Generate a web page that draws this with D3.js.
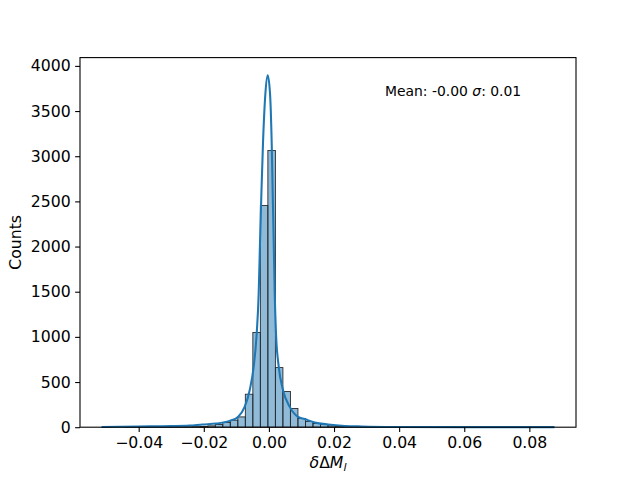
<!DOCTYPE html>
<html>
<head>
<meta charset="utf-8">
<script src="https://cdn.jsdelivr.net/npm/d3@7"></script>
<style>
  html, body { margin: 0; padding: 0; background: #fff; }
  svg text { font-family: "DejaVu Sans", sans-serif; fill: #000; }
</style>
</head>
<body>
<svg id="chart" width="640" height="480"></svg>
<script>
// ---- data ----
const dataMin = -0.0511;
const dataMax = 0.0874;
const binCounts = [
  1, 0, 0, 1, 1, 1, 2, 2, 3, 3, 4, 5, 6, 8, 15, 30, 52, 77, 114, 365,
  1048, 2454, 3063, 660, 395, 207, 96, 63, 41, 30, 15, 10, 6, 4, 3, 2, 2, 1, 1, 1,
  1, 0, 1, 0, 0, 1, 0, 0, 0, 1, 0, 0, 0, 0, 1, 0, 0, 0, 0, 1
];
const kdeX = [-0.0511, -0.040, -0.030, -0.0244, -0.0204, -0.0162, -0.0121, -0.0095, -0.00745, -0.0059,
  -0.00468, -0.00375, -0.00314, -0.00274, -0.00231, -0.00182, -0.00108, -0.00037, 0.00034, 0.00086,
  0.00117, 0.00148, 0.00178, 0.00218, 0.00302, 0.00434, 0.0064, 0.00895, 0.011, 0.0141,
  0.0182, 0.0233, 0.0285, 0.0387, 0.060, 0.0874];
const kdeY = [3, 8, 12, 18, 30, 40, 70, 114, 225, 410,
  668, 1037, 1480, 2034, 2587, 3141, 3694, 3897, 3694, 3141,
  2587, 2034, 1480, 1037, 668, 410, 225, 114, 90, 52,
  30, 14, 8, 3, 1, 0.5];
const xTicks = [-0.04, -0.02, 0.00, 0.02, 0.04, 0.06, 0.08];
const yTicks = [0, 500, 1000, 1500, 2000, 2500, 3000, 3500, 4000];
const annotation = { pre: "Mean: -0.00 ", sym: "σ", post: ": 0.01" };

// ---- layout ----
const mL = 80, mR = 576, mT = 57.6, mB = 427.2;
const svg = d3.select("#chart");

const span = dataMax - dataMin;
const x = d3.scaleLinear().domain([dataMin - 0.05 * span, dataMax + 0.05 * span]).range([mL, mR]);
const yMax = d3.max(kdeY.concat(binCounts)) * 1.05;
const y = d3.scaleLinear().domain([0, yMax]).range([mB, mT]);

const nb = binCounts.length;
const bw = span / nb;
const bins = binCounts.map((c, i) => ({ x0: dataMin + i * bw, x1: dataMin + (i + 1) * bw, c }));

// bars
svg.append("g").selectAll("rect").data(bins).join("rect")
  .attr("x", d => x(d.x0))
  .attr("width", d => x(d.x1) - x(d.x0))
  .attr("y", d => y(d.c))
  .attr("height", d => y(0) - y(d.c))
  .attr("fill", "rgba(31,119,180,0.5)")
  .attr("stroke", "#2a2a2a")
  .attr("stroke-width", 0.9);

// kde line
const pts = kdeX.map((v, i) => [v, kdeY[i]]);
svg.append("path")
  .datum(pts)
  .attr("fill", "none")
  .attr("stroke", "#1f77b4")
  .attr("stroke-width", 2.08)
  .attr("stroke-linejoin", "round")
  .attr("stroke-linecap", "square")
  .attr("d", d3.line().x(d => x(d[0])).y(d => y(d[1])).curve(d3.curveMonotoneX));

// axes
const fs = 15.7;
const xAxis = d3.axisBottom(x).tickValues(xTicks).tickSize(4.86).tickPadding(4.4)
  .tickFormat(d => { const s = d3.format(".2f")(d); return s.replace("-", "\u2212"); });
const gx = svg.append("g").attr("transform", `translate(0,${mB})`).call(xAxis);
const yAxis = d3.axisLeft(y).tickValues(yTicks).tickSize(4.86).tickPadding(4.4).tickFormat(d3.format("d"));
const gy = svg.append("g").attr("transform", `translate(${mL},0)`).call(yAxis);
[gx, gy].forEach(g => {
  g.select(".domain").remove();
  g.selectAll(".tick line").attr("stroke", "#000").attr("stroke-width", 1.1);
  g.selectAll(".tick text").attr("font-size", fs).attr("font-family", "DejaVu Sans").attr("fill", "#000");
});
gx.selectAll(".tick text").attr("dy", "0.71em");

// spines
svg.append("rect").attr("x", mL).attr("y", mT).attr("width", mR - mL).attr("height", mB - mT)
  .attr("fill", "none").attr("stroke", "#000").attr("stroke-width", 1.1);

// axis labels
svg.append("text")
  .attr("transform", `translate(21.3,${(mT + mB) / 2}) rotate(-90)`)
  .attr("text-anchor", "middle").attr("font-size", fs)
  .text("Counts");

const xl = svg.append("text").attr("x", (mL + mR) / 2).attr("y", 467.5)
  .attr("text-anchor", "middle").attr("font-size", fs);
xl.append("tspan").attr("font-style", "italic").text("δ");
xl.append("tspan").text("Δ");
xl.append("tspan").attr("font-style", "italic").text("M");
xl.append("tspan").attr("font-style", "italic").attr("font-size", fs * 0.7).attr("dy", 3).text("l");

// annotation
const an = svg.append("text").attr("x", 385).attr("y", 96).attr("font-size", 13.9);
an.append("tspan").text(annotation.pre);
an.append("tspan").attr("font-style", "italic").text(annotation.sym);
an.append("tspan").text(annotation.post);
</script>
</body>
</html>
